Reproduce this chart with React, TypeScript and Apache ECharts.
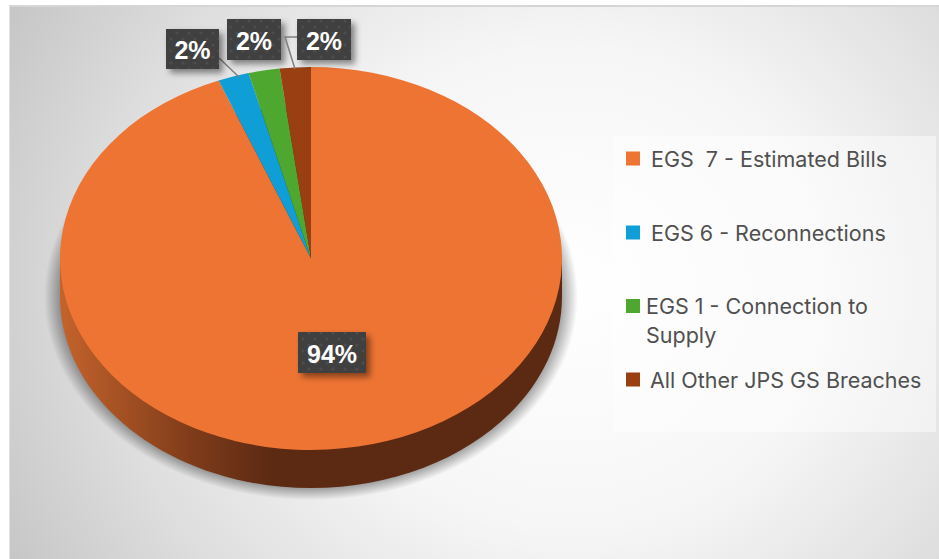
import React, { useEffect, useRef } from "react";
import * as echarts from "echarts";

const categories = [
  "EGS  7 - Estimated Bills",
  "EGS 6 - Reconnections",
  "EGS 1 - Connection to\nSupply",
  "All Other JPS GS Breaches",
];
const shareValues = [94, 2, 2, 2];
const sliceColors = ["#EE7433", "#0F9ED5", "#4EA72E", "#9A3F11"];

const PIE = { cx: 311, cy: 258.5, rx: 251, ry: 191.5, depth: 38 };
const HALO = { spread: 16 };
const LABEL_BOXES = [
  { x: 298, y: 332, w: 68, h: 41 },
  { x: 166, y: 29, w: 53, h: 40 },
  { x: 227, y: 19, w: 54, h: 41 },
  { x: 297, y: 19, w: 54, h: 41 },
];
const LEADERS: number[][][] = [
  [],
  [[219, 58], [239, 77]],
  [],
  [[297, 37], [285, 37], [295, 69]],
];
const LEGEND_SLOTS = [
  { left: 626, top: 144, pad: [0, 0, 0, 6] },
  { left: 626, top: 218, pad: [0, 0, 0, 6] },
  { left: 626, top: 262.5, pad: [0, 0, 0, 1] },
  { left: 626, top: 365, pad: [0, 0, 0, 5] },
];

function dotPattern(): HTMLCanvasElement {
  const c = document.createElement("canvas");
  c.width = 12;
  c.height = 12;
  const g = c.getContext("2d")!;
  g.fillStyle = "rgba(255,255,255,0.07)";
  for (const [x, y] of [[3, 3], [9, 9]]) {
    g.beginPath();
    g.arc(x, y, 1.6, 0, Math.PI * 2);
    g.fill();
  }
  return c;
}

export default function App() {
  const ref = useRef<HTMLDivElement>(null);

  useEffect(() => {
    document.body.style.margin = "0";
    const chart = echarts.init(ref.current!, undefined, { renderer: "svg" });
    const pattern = dotPattern();
    const total = shareValues.reduce((a, b) => a + b, 0);

    const wallFill = () =>
      new echarts.graphic.LinearGradient(0, 0, 1, 0, [
        { offset: 0, color: "#C4632C" },
        { offset: 0.26, color: "#803C1A" },
        { offset: 0.42, color: "#5C2A13" },
        { offset: 1, color: "#5C2A13" },
      ]);

    const renderSlice = (index: number) => (_p: any, api: any) => {
      const before = shareValues.slice(0, index).reduce((a, b) => a + b, 0);
      const value = api.value(0);
      const startAngle = (before / total) * Math.PI * 2 - Math.PI / 2;
      const endAngle = ((before + value) / total) * Math.PI * 2 - Math.PI / 2;
      const box = LABEL_BOXES[index];
      const children: any[] = [];
      const squash = PIE.ry / PIE.rx;

      if (index === 0) {
        const haloRadius = PIE.rx + HALO.spread;
        // Soft halo under the disc, then its side wall: a band plus the lower ellipse.
        children.push(
          {
            type: "group",
            x: PIE.cx,
            y: PIE.cy + PIE.depth,
            scaleY: squash,
            children: [
              {
                type: "circle",
                shape: { cx: 0, cy: 0, r: haloRadius },
                style: {
                  fill: new echarts.graphic.RadialGradient(0.5, 0.5, 0.5, [
                    { offset: 0, color: "rgba(0,0,0,0.34)" },
                    { offset: PIE.rx / haloRadius, color: "rgba(0,0,0,0.34)" },
                    { offset: 1, color: "rgba(0,0,0,0)" },
                  ]),
                },
              },
            ],
          },
          {
            type: "ellipse",
            shape: { cx: PIE.cx, cy: PIE.cy + PIE.depth, rx: PIE.rx, ry: PIE.ry },
            style: { fill: wallFill() },
          },
          {
            type: "rect",
            shape: { x: PIE.cx - PIE.rx, y: PIE.cy, width: PIE.rx * 2, height: PIE.depth },
            style: { fill: wallFill() },
          },
        );
      }

      children.push({
        type: "group",
        x: PIE.cx,
        y: PIE.cy,
        scaleY: squash,
        children: [
          {
            type: "sector",
            shape: { cx: 0, cy: 0, r: PIE.rx, r0: 0, startAngle, endAngle, clockwise: true },
            style: { fill: sliceColors[index] },
          },
        ],
      });

      if (LEADERS[index].length) {
        children.push({
          type: "polyline",
          shape: { points: LEADERS[index] },
          style: { fill: "none", stroke: "#7F7F7F", lineWidth: 1.5 },
        });
      }

      children.push(
        {
          type: "rect",
          shape: { x: box.x, y: box.y, width: box.w, height: box.h },
          style: {
            fill: "#404040",
            shadowBlur: 6,
            shadowOffsetX: 4,
            shadowOffsetY: 4,
            shadowColor: "rgba(0,0,0,0.45)",
          },
        },
        {
          type: "rect",
          shape: { x: box.x, y: box.y, width: box.w, height: box.h },
          style: { fill: { image: pattern, repeat: "repeat" } },
        },
        {
          type: "text",
          x: box.x + box.w / 2,
          y: box.y + box.h / 2 + 1,
          style: {
            text: `${value}%`,
            fill: "#FFFFFF",
            font: 'bold 25px "Liberation Sans", Arial, sans-serif',
            align: "center",
            verticalAlign: "middle",
          },
        },
      );

      return { type: "group", children };
    };

    chart.setOption({
      animation: false,
      backgroundColor: "transparent",
      graphic: [
        {
          type: "rect",
          z: 0,
          shape: { x: 613, y: 136, width: 323, height: 296 },
          style: { fill: "rgba(255,255,255,0.45)" },
        },
      ],
      legend: categories.map((name, i) => ({
        data: [name],
        left: LEGEND_SLOTS[i].left,
        top: LEGEND_SLOTS[i].top,
        padding: 0,
        icon: "rect",
        itemWidth: 14,
        itemHeight: 14,
        selectedMode: false,
        // A leading blank line keeps a wrapped name's first line level with its swatch.
        formatter: (n: string) => (n.includes("\n") ? `\n${n}` : n),
        textStyle: {
          color: "#505050",
          fontFamily: "Inter, sans-serif",
          fontSize: 21.5,
          lineHeight: 29,
          padding: LEGEND_SLOTS[i].pad,
        },
      })),
      series: categories.map((name, i) => ({
        type: "custom",
        name,
        coordinateSystem: "none",
        silent: true,
        itemStyle: { color: sliceColors[i] },
        data: [[shareValues[i]]],
        renderItem: renderSlice(i),
      })),
    });

    return () => chart.dispose();
  }, []);

  return (
    <div style={{ position: "relative", width: 939, height: 559, background: "#fff", overflow: "hidden" }}>
      <div
        style={{
          position: "absolute",
          left: 9,
          top: 5,
          right: 0,
          bottom: 0,
          borderTop: "2px solid #d6d6d6",
          borderLeft: "1px solid #e2e2e2",
          background: "radial-gradient(ellipse 650px 600px at 560px 280px, #ffffff 0%, #f6f6f6 40%, #dedede 72%, #c4c4c4 100%)",
        }}
      />
      <div ref={ref} style={{ position: "absolute", left: 0, top: 0, width: 939, height: 559 }} />
    </div>
  );
}
